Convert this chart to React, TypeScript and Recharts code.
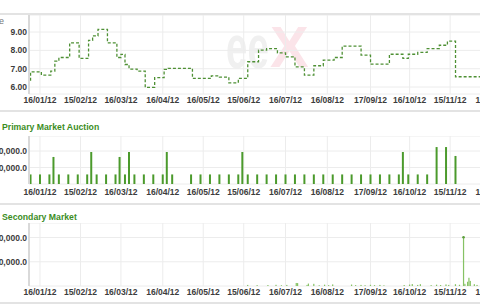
import React from "react";
import { Bar, CartesianGrid, ComposedChart, Line, XAxis, YAxis } from "recharts";

// month ticks shared by all three panels
const tickDates = [
  "2012-01-16", "2012-02-15", "2012-03-16", "2012-04-16", "2012-05-16", "2012-06-15",
  "2012-07-16", "2012-08-16", "2012-09-17", "2012-10-16", "2012-11-15", "2012-12-16",
];

// settlement price (EUR/t), step changes
const priceDates = [
  "2012-01-06", "2012-01-09", "2012-01-17", "2012-01-24", "2012-01-27", "2012-01-30",
  "2012-02-07", "2012-02-14", "2012-02-21", "2012-02-24", "2012-02-28", "2012-03-06",
  "2012-03-13", "2012-03-16", "2012-03-19", "2012-03-22", "2012-03-28", "2012-04-03",
  "2012-04-10", "2012-04-17", "2012-04-20", "2012-05-08", "2012-05-22", "2012-05-28",
  "2012-06-04", "2012-06-11", "2012-06-18", "2012-06-26", "2012-07-02", "2012-07-10",
  "2012-07-16", "2012-07-23", "2012-07-30", "2012-08-06", "2012-08-13", "2012-08-21",
  "2012-08-27", "2012-09-10", "2012-09-17", "2012-10-01", "2012-10-11", "2012-10-15",
  "2012-10-22", "2012-10-29", "2012-11-07", "2012-11-13", "2012-11-19", "2012-12-14",
];
const priceValues = [
  6.29, 6.83, 6.65, 6.87, 7.41, 7.61,
  8.41, 7.56, 8.55, 8.79, 9.15, 8.41,
  7.61, 7.78, 7.23, 6.98, 6.87, 5.98,
  6.51, 6.96, 7.02, 6.47, 6.61, 6.54,
  6.23, 6.47, 7.38, 8.01, 8.10, 7.86,
  7.65, 7.10, 6.65, 7.16, 7.47, 7.61,
  8.23, 7.74, 7.25, 7.79, 7.56, 7.79,
  7.89, 8.10, 8.28, 8.50, 6.56, 6.56,
];
const priceTicks = [6, 7, 8, 9];

// primary market auctions (volume)
const auctionDates = [
  "2012-01-09", "2012-01-16", "2012-01-23", "2012-01-26", "2012-01-30", "2012-02-06",
  "2012-02-13", "2012-02-20", "2012-02-23", "2012-02-27", "2012-03-05", "2012-03-12",
  "2012-03-15", "2012-03-19", "2012-03-22", "2012-03-26", "2012-04-02", "2012-04-09",
  "2012-04-16", "2012-04-19", "2012-04-23", "2012-05-07", "2012-05-14", "2012-05-21",
  "2012-05-28", "2012-06-04", "2012-06-11", "2012-06-14", "2012-06-18", "2012-06-25",
  "2012-07-02", "2012-07-09", "2012-07-16", "2012-07-23", "2012-07-30", "2012-08-06",
  "2012-08-13", "2012-08-20", "2012-08-27", "2012-09-03", "2012-09-10", "2012-09-17",
  "2012-09-24", "2012-10-01", "2012-10-08", "2012-10-11", "2012-10-15", "2012-10-22",
  "2012-10-29", "2012-11-05", "2012-11-12", "2012-11-19",
];
const auctionVolumes = [
  5800, 5800, 5800, 16400, 5800, 5800,
  5800, 5800, 19400, 5800, 5800, 5800,
  16400, 5800, 19400, 5800, 5800, 5800,
  5800, 19400, 5800, 5800, 5800, 5800,
  5800, 5800, 5800, 19400, 5800, 5800,
  5800, 5800, 5800, 5800, 5800, 5800,
  5800, 5800, 5800, 5800, 5800, 5800,
  5800, 5800, 5800, 19400, 5800, 5800,
  5800, 22400, 22400, 17000,
];
const auctionTicks = [10000, 20000];

// secondary market (volume)
const secondaryDates = [
  "2012-06-18", "2012-06-25", "2012-07-03", "2012-07-09", "2012-07-13", "2012-07-17",
  "2012-07-24", "2012-07-25", "2012-08-01", "2012-08-02", "2012-08-06", "2012-08-10",
  "2012-08-14", "2012-08-17", "2012-08-20", "2012-09-03", "2012-09-06", "2012-09-10",
  "2012-09-13", "2012-09-17", "2012-09-20", "2012-09-24", "2012-09-27", "2012-10-12",
  "2012-10-16", "2012-10-18", "2012-10-22", "2012-10-24", "2012-11-01", "2012-11-05",
  "2012-11-08", "2012-11-12", "2012-11-14", "2012-11-19", "2012-11-22", "2012-11-25",
  "2012-11-26", "2012-11-28", "2012-11-29", "2012-11-30", "2012-12-03", "2012-12-05",
];
const secondaryVolumes = [
  900, 700, 800, 1000, 600, 900,
  2500, 2400, 900, 2000, 1800, 600,
  1100, 700, 1300, 1200, 700, 900,
  600, 1000, 700, 900, 500, 800,
  1200, 1600, 900, 1500, 700, 1100,
  800, 1300, 900, 1500, 1000, 40200,
  1800, 3500, 6800, 4200, 1500, 900,
];
const secondaryTicks = [20000, 40000];

const DAY0 = Date.UTC(2012, 0, 1);
const toDay = (s: string) => {
  const [y, m, d] = s.split("-").map(Number);
  return (Date.UTC(y, m - 1, d) - DAY0) / 86400000;
};
const fmtDate = (day: number) => {
  const dt = new Date(DAY0 + Math.round(day) * 86400000);
  const p = (n: number) => String(n).padStart(2, "0");
  return `${p(dt.getUTCDate())}/${p(dt.getUTCMonth() + 1)}/${p(dt.getUTCFullYear() % 100)}`;
};
const fmtVol = (v: number) => v.toLocaleString("en-US", { minimumFractionDigits: 1, maximumFractionDigits: 1 });

const tickDays = tickDates.map(toDay);
const priceData = priceDates.map((d, i) => ({ day: toDay(d), price: priceValues[i] }));
const auctionData = auctionDates.map((d, i) => ({ day: toDay(d), volume: auctionVolumes[i] }));
const secondaryData = secondaryDates.map((d, i) => ({ day: toDay(d), volume: secondaryVolumes[i] }));

const FONT = "'Liberation Sans', Arial, sans-serif";
const X_DOMAIN: [number, number] = [6.85, 370.8];
const tickStyle = { fontSize: 8.5, fontWeight: 700, fill: "#3c3c3c", fontFamily: FONT };
const GREEN = "#4b9a2c";

function Panel({ data, height, xMargin, yDomain, yTicks, yFormat, children }: any) {
  return (
    <ComposedChart width={520} height={height} data={data} margin={{ top: 0, right: 0, bottom: 0, left: 0 }}>
      <CartesianGrid stroke="#ececec" />
      <XAxis
        dataKey="day"
        type="number"
        domain={X_DOMAIN}
        allowDataOverflow
        ticks={tickDays}
        interval={0}
        tickFormatter={fmtDate}
        axisLine={false}
        tickLine={false}
        tickSize={0}
        tickMargin={xMargin}
        height={16}
        tick={tickStyle}
      />
      <YAxis
        domain={yDomain}
        allowDataOverflow
        ticks={yTicks}
        interval={0}
        tickFormatter={yFormat}
        width={29}
        axisLine={{ stroke: "#d9d9d9", strokeWidth: 2 }}
        tickLine={false}
        tickSize={0}
        tickMargin={2}
        tick={tickStyle}
      />
      {children}
    </ComposedChart>
  );
}

const SecondaryBar = (p: any) => (
  <g>
    <rect x={p.x} y={p.y} width={p.width} height={p.height} fill="#86c264" />
    {p.height > 20 && <circle cx={p.x + p.width / 2} cy={p.y} r={1.3} fill="#5c9e3c" />}
  </g>
);

const line = (top: number) => (
  <div style={{ position: "absolute", left: 0, top, width: 480, height: 2, background: "#e3e3e3" }} />
);

const title = (text: string, top: number) => (
  <div style={{ position: "absolute", left: 2, top, fontFamily: FONT, fontSize: 8.7, fontWeight: 700, color: "#3b8d1d", lineHeight: "10px", whiteSpace: "nowrap" }}>
    {text}
  </div>
);

export default function App() {
  return (
    <div style={{ position: "absolute", left: 0, top: 0, width: 480, height: 305, overflow: "hidden", background: "#fff", fontFamily: FONT }}>
      {/* watermark */}
      <div style={{ position: "absolute", left: 226, top: 17, fontSize: 62, fontWeight: 700, lineHeight: "60px", color: "#f0f0f0", transform: "scaleX(0.62)", transformOrigin: "left top" }}>ee</div>
      <div style={{ position: "absolute", left: 270, top: 17, fontSize: 58, fontWeight: 700, lineHeight: "60px", color: "#fbe4e9" }}>X</div>

      {line(13)}
      <div style={{ position: "absolute", right: 476, top: 16, fontSize: 9, color: "#777", lineHeight: "10px" }}>Price</div>
      <div style={{ position: "absolute", left: 0, top: 15 }}>
        <Panel data={priceData} height={95} xMargin={3} yDomain={[5.62, 9.93]} yTicks={priceTicks} yFormat={(v: number) => v.toFixed(2)}>
          <Line type="stepAfter" dataKey="price" stroke="#4e9034" strokeWidth={1.3} strokeDasharray="3 2" dot={false} isAnimationActive={false} />
        </Panel>
      </div>

      {line(110)}
      {title("Primary Market Auction", 122)}
      <div style={{ position: "absolute", left: 0, top: 136 }}>
        <Panel data={auctionData} height={64} xMargin={5} yDomain={[0, 29100]} yTicks={auctionTicks} yFormat={fmtVol}>
          <Bar dataKey="volume" barSize={2} fill={GREEN} isAnimationActive={false} />
        </Panel>
      </div>

      {line(203)}
      {title("Secondary Market", 212)}
      <div style={{ position: "absolute", left: 0, top: 223 }}>
        <Panel data={secondaryData} height={79} xMargin={3} yDomain={[0, 52000]} yTicks={secondaryTicks} yFormat={fmtVol}>
          <Bar dataKey="volume" barSize={1.5} shape={SecondaryBar} isAnimationActive={false} />
        </Panel>
      </div>
      {line(302)}
    </div>
  );
}
